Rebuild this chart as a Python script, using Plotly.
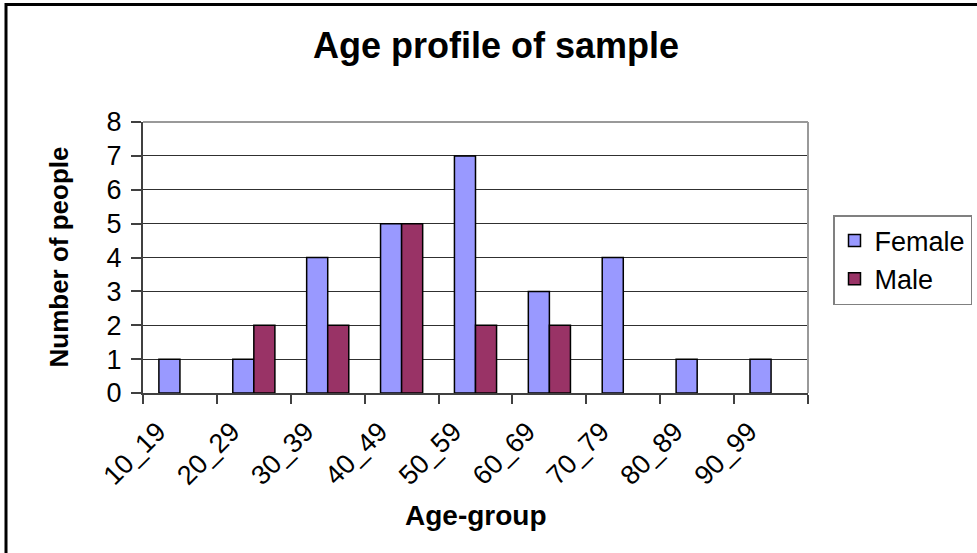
import plotly.graph_objects as go

# Age groups and counts per sex
age_groups = ["10_19", "20_29", "30_39", "40_49", "50_59", "60_69", "70_79", "80_89", "90_99"]
female = [1, 1, 4, 5, 7, 3, 4, 1, 1]
male = [0, 2, 2, 5, 2, 2, 0, 0, 0]
y_ticks = [0, 1, 2, 3, 4, 5, 6, 7, 8]

FONT = "Liberation Sans, Arial, sans-serif"

# Plot area in pixels (inside a 977x553 page)
W, H = 977, 553
L, R, T, B = 143, 808, 122, 393


def px_x(p):
    return (p - L) / (R - L)


def px_y(p):
    return (B - p) / (B - T)


def drawn(values):
    # empty groups get no bar at all (avoids a flat outline along the axis)
    return [v if v else None for v in values]


fig = go.Figure()
fig.add_trace(go.Bar(
    name="Female", x=age_groups, y=drawn(female),
    marker=dict(color="#9999FF", line=dict(color="#000000", width=1.5)),
))
fig.add_trace(go.Bar(
    name="Male", x=age_groups, y=drawn(male),
    marker=dict(color="#993366", line=dict(color="#000000", width=1.5)),
))

fig.update_layout(
    width=W, height=H,
    margin=dict(l=L, r=W - R, t=T, b=H - B, autoexpand=False),
    paper_bgcolor="white", plot_bgcolor="white",
    barmode="group", bargap=0.43, bargroupgap=0,
    font=dict(family=FONT, color="black"),
    title=dict(text="<b>Age profile of sample</b>", x=px_x(496), xref="paper", xanchor="center",
               y=1 - 45 / H, yref="container", yanchor="middle",
               font=dict(family=FONT, size=36, color="black")),
    showlegend=True,
    legend=dict(x=px_x(833), y=px_y(215), xanchor="left", yanchor="top",
                bgcolor="white", bordercolor="#808080", borderwidth=1.5,
                font=dict(family=FONT, size=27, color="black")),
    xaxis=dict(type="category", tickson="boundaries", ticks="outside", ticklen=9,
               tickcolor="#404040", tickwidth=1.5, tickangle=-45,
               tickfont=dict(family=FONT, size=27, color="black"),
               showline=True, linecolor="#404040", linewidth=2,
               showgrid=False, ticklabelshift=-22, ticklabelstandoff=10),
    yaxis=dict(range=[0, 8], tickvals=y_ticks, ticks="outside", ticklen=10,
               tickcolor="#404040", tickwidth=1.5,
               tickfont=dict(family=FONT, size=27, color="black"),
               showline=True, linecolor="#404040", linewidth=2, ticklabelstandoff=4,
               showgrid=True, gridcolor="#303030", gridwidth=1, zeroline=False),
    annotations=[
        dict(text="<b>Number of people</b>", x=px_x(58), y=0.5, xref="paper", yref="paper",
             textangle=-90, showarrow=False, xanchor="center", yanchor="middle",
             font=dict(family=FONT, size=26, color="black")),
        dict(text="<b>Age-group</b>", x=0.5, y=px_y(515), xref="paper", yref="paper",
             showarrow=False, xanchor="center", yanchor="middle",
             font=dict(family=FONT, size=28, color="black")),
    ],
    shapes=[
        # gray frame on the top and right of the plot area
        dict(type="line", xref="paper", yref="paper", x0=0, x1=1, y0=1, y1=1,
             line=dict(color="#999999", width=2)),
        dict(type="line", xref="paper", yref="paper", x0=1, x1=1, y0=0, y1=1,
             line=dict(color="#999999", width=2)),
        # black chart border (left and top edges fall inside the page)
        dict(type="rect", xref="paper", yref="paper",
             x0=px_x(6), x1=px_x(W + 20), y0=px_y(H + 20), y1=px_y(4.5),
             line=dict(color="black", width=3), layer="above"),
    ],
)

fig.write_html("out.html")
